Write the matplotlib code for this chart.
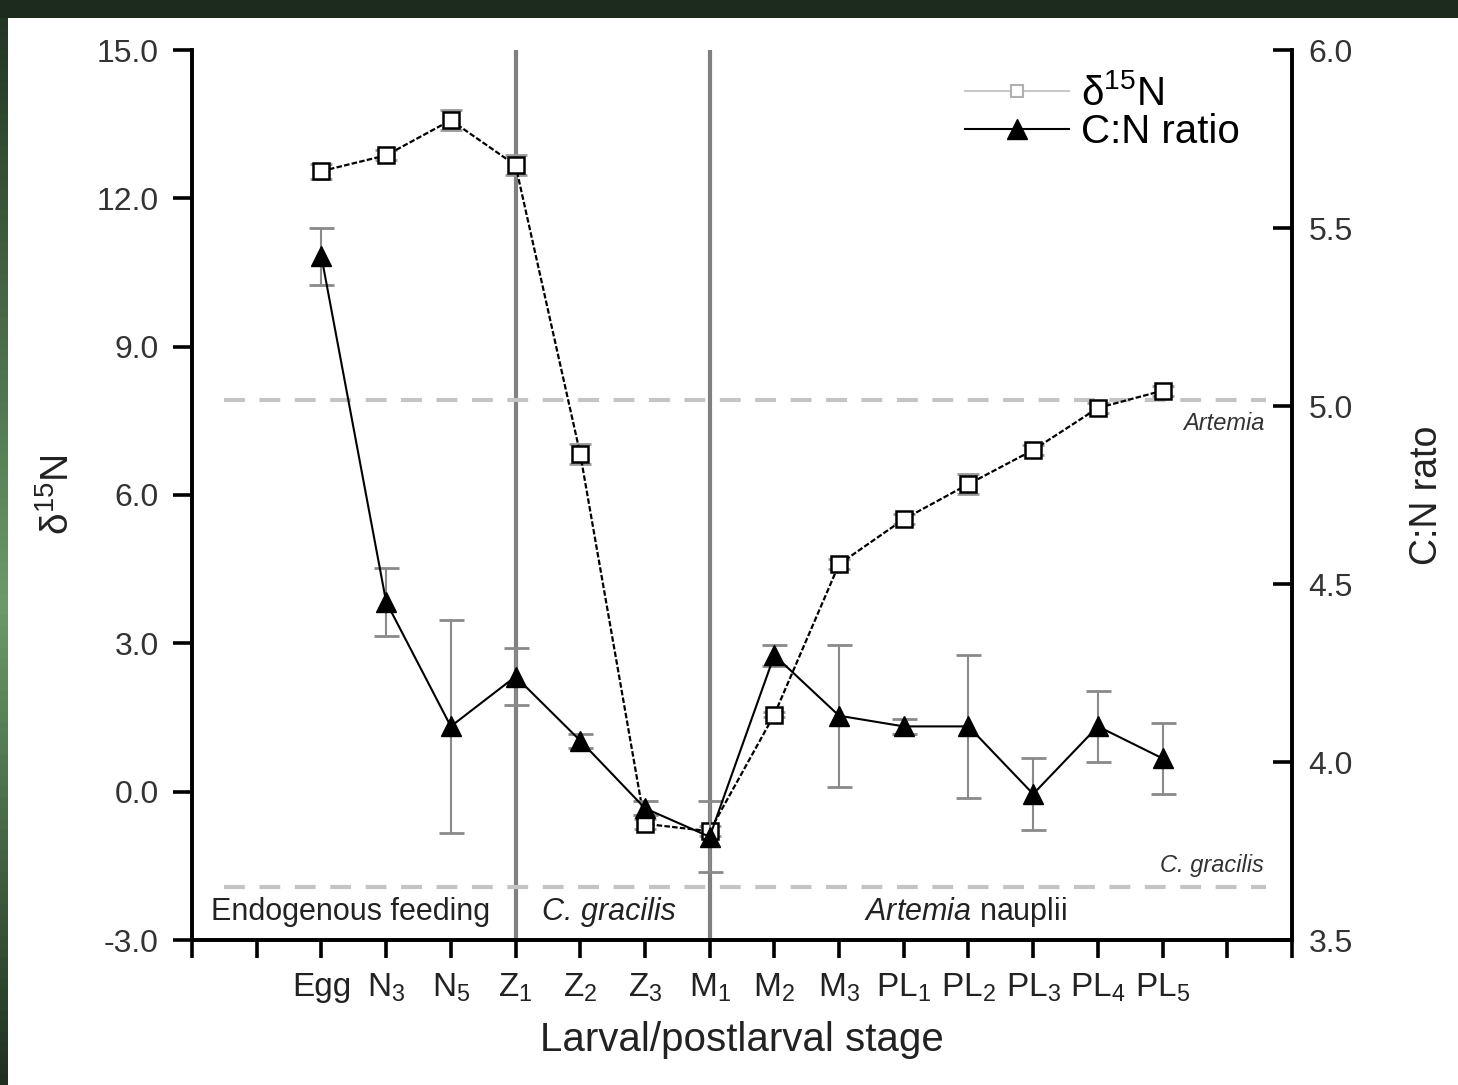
import numpy as np
import matplotlib
matplotlib.use('Agg')
import matplotlib.pyplot as plt
from matplotlib.lines import Line2D
from matplotlib.colors import LinearSegmentedColormap
from matplotlib.ticker import FormatStrFormatter

plt.rcParams['font.family'] = ['Liberation Sans', 'DejaVu Sans']
plt.rcParams['mathtext.fontset'] = 'custom'
plt.rcParams['mathtext.rm'] = 'Liberation Sans'
plt.rcParams['mathtext.it'] = 'Liberation Sans:italic'

# ------------------------- data --------------------------------
stages = ['Egg', 'N$_3$', 'N$_5$', 'Z$_1$', 'Z$_2$', 'Z$_3$', 'M$_1$',
          'M$_2$', 'M$_3$', 'PL$_1$', 'PL$_2$', 'PL$_3$', 'PL$_4$', 'PL$_5$']

d15n = [12.55, 12.87, 13.58, 12.67, 6.83, -0.65, -0.80,
        1.56, 4.60, 5.51, 6.22, 6.91, 7.76, 8.11]
d15n_err = [0.15, 0.10, 0.20, 0.20, 0.20, 0.10, 0.10,
            0.05, 0.10, 0.10, 0.20, 0.10, 0.10, 0.10]

cn = [5.42, 4.45, 4.10, 4.24, 4.06, 3.87, 3.79,
      4.30, 4.13, 4.10, 4.10, 3.91, 4.10, 4.01]
cn_err = [0.08, 0.095, 0.30, 0.08, 0.02, 0.02, 0.10,
          0.03, 0.20, 0.02, 0.20, 0.10, 0.10, 0.10]

artemia_d15n = 7.93
gracilis_d15n = -1.93
diet_switch = [3, 6]   # Z1 and M1

x = np.arange(len(stages))

# ------------------------- plot --------------------------------
fig = plt.figure(figsize=(14.58, 10.85), dpi=100)
fig.patch.set_facecolor('#1c2b1c')

# white slide area and green strip on the left
bg = fig.add_axes([8 / 1458, 0, 1 - 8 / 1458, 1 - 18 / 1085])
bg.set_facecolor('white')
bg.set_xticks([])
bg.set_yticks([])
for s in bg.spines.values():
    s.set_visible(False)
strip = fig.add_axes([0, 0, 8 / 1458, 1 - 18 / 1085])
greens = LinearSegmentedColormap.from_list('g', ['#1c2b1c', '#6a9a68'])
grad = np.concatenate([np.linspace(0.1, 1.0, 55), np.linspace(1.0, 0.05, 45)])
strip.imshow(grad[:, None], aspect='auto', cmap=greens, vmin=0, vmax=1)
strip.axis('off')

ax = fig.add_axes([192 / 1458, 145 / 1085, 1100 / 1458, 890 / 1085])
ax.patch.set_alpha(0)
ax2 = ax.twinx()

ax.set_xlim(-2, 15)
ax.set_ylim(-3, 15)
ax2.set_ylim(3.5, 6.0)

# diet periods
for xv in diet_switch:
    ax.axvline(xv, color='#808080', lw=3, zorder=1)
for yv in [artemia_d15n, gracilis_d15n]:
    ax.plot([-1.5, 14.6], [yv, yv], color='#c4c4c4', lw=3,
            dashes=(5, 3.5), zorder=1)

ax.text(14.57, artemia_d15n - 0.25, 'Artemia', style='italic', fontsize=17,
        ha='right', va='top', color='#333333')
ax.text(14.57, gracilis_d15n + 0.2, 'C. gracilis', style='italic', fontsize=17,
        ha='right', va='bottom', color='#333333')
ax.text(0.45, -2.43, 'Endogenous feeding', fontsize=22, ha='center',
        va='center', color='#222222')
ax.text(4.45, -2.43, 'C. gracilis', style='italic', fontsize=22,
        ha='center', va='center', color='#222222')
ax.text(9.95, -2.43, r'$\it{Artemia}$ nauplii', fontsize=22,
        ha='center', va='center', color='#222222')

# delta 15N series
ax.errorbar(x, d15n, yerr=d15n_err, fmt='none', ecolor='#9a9a9a',
            elinewidth=1.5, capsize=8, capthick=2, zorder=3)
ax.plot(x, d15n, color='black', lw=1.6, dashes=(2.5, 1),
        marker='s', ms=11, mfc='white', mec='black', mew=1.8, zorder=4)

# C:N ratio series
ax2.errorbar(x, cn, yerr=cn_err, fmt='none', ecolor='#8a8a8a',
             elinewidth=1.5, capsize=9, capthick=2, zorder=3)
ax2.plot(x, cn, color='black', lw=1.5, marker='^', ms=15,
         mfc='black', mec='black', zorder=4)

# axes styling
ax.set_xticks(np.arange(-2, 16))
ax.set_xticklabels([''] * 2 + stages + [''] * 2)
ax.set_yticks(np.arange(-3, 15.1, 3))
ax.yaxis.set_major_formatter(FormatStrFormatter('%.1f'))
ax2.set_yticks(np.arange(3.5, 6.01, 0.5))
ax2.yaxis.set_major_formatter(FormatStrFormatter('%.1f'))

for a in (ax, ax2):
    a.spines['top'].set_visible(False)
    for s in ('left', 'right', 'bottom'):
        a.spines[s].set_linewidth(2.6)
ax.tick_params(axis='x', direction='out', length=13, width=2.6,
               labelsize=24, pad=10, colors='black', labelcolor='#222222')
ax.tick_params(axis='y', direction='out', length=14, width=2.6,
               labelsize=23, pad=10, labelcolor='#333333')
ax2.tick_params(axis='y', direction='in', length=14, width=2.6,
                labelsize=23, pad=12, labelcolor='#333333')

ax.set_xlabel('Larval/postlarval stage', fontsize=29, labelpad=12,
              color='#222222')
ax.set_ylabel('\u03b4$^{15}$N', fontsize=28, labelpad=14, color='#222222')
ax2.set_ylabel('C:N rato', fontsize=27, labelpad=40, color='#222222')

handles = [Line2D([], [], color='#c8c8c8', lw=1.5, marker='s', ms=9,
                  mfc='white', mec='#b0b0b0', mew=1.5),
           Line2D([], [], color='black', lw=1.5, marker='^', ms=14,
                  mfc='black', mec='black')]
ax2.legend(handles, ['\u03b4$^{15}$N', 'C:N ratio'], loc='upper right',
           bbox_to_anchor=(0.975, 1.0), frameon=False, fontsize=29,
           handlelength=2.6, handletextpad=0.3, labelspacing=0.0,
           borderaxespad=0.2)

fig.savefig('out.png', dpi=100, facecolor=fig.get_facecolor())
